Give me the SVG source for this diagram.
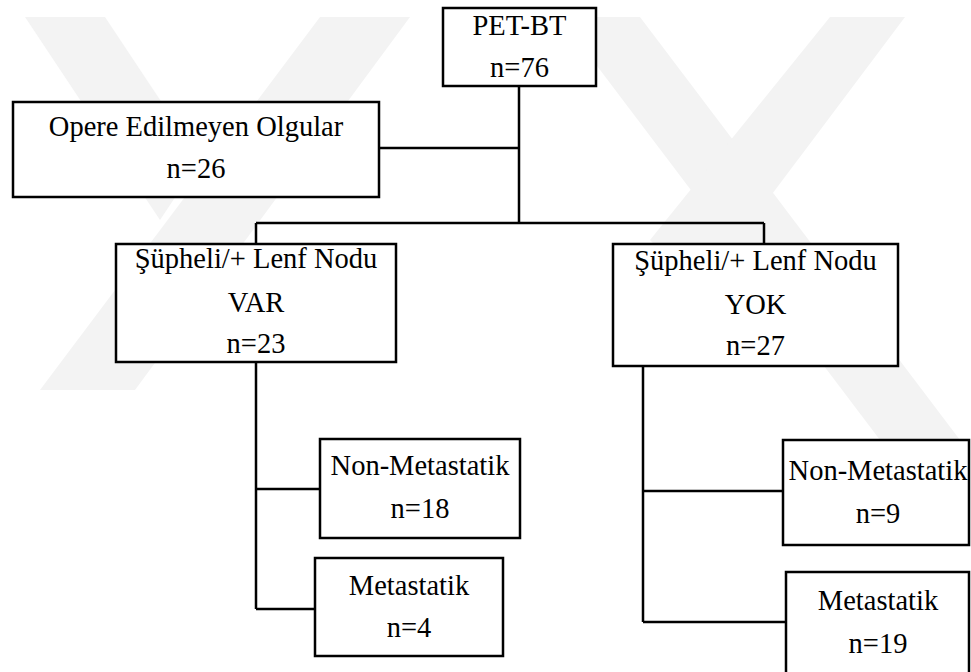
<svg xmlns="http://www.w3.org/2000/svg" width="971" height="672" viewBox="0 0 971 672">
<style>
.box{fill:#fff;stroke:#000;stroke-width:2.5}
.ln{fill:none;stroke:#000;stroke-width:2.5}
.t{font-size:28.5px;fill:#000;text-anchor:middle}
.wm{fill:#f3f3f3}
</style>
<rect width="971" height="672" fill="#fff"/>
<g id="watermark">
<polygon class="wm" points="25,17 105,17 200,160 160,220"/>
<polygon class="wm" points="320,17 410,17 135,390 40,390"/>
<polygon class="wm" points="560,17 640,17 960,440 880,440"/>
<polygon class="wm" points="830,17 905,17 700,290 650,240"/>
</g>
<g id="connectors">
<path class="ln" d="M519,86V223M379,148H519M256,223H764M256,223V244M764,223V244"/>
<path class="ln" d="M256,362V609M256,489H320M256,609H315"/>
<path class="ln" d="M643,366V622M643,491H783M643,622H786"/>
</g>
<g class="t" font-family="Liberation Serif, Tinos, Times New Roman, DejaVu Serif, serif">
<g id="pet">
<rect class="box" x="443" y="8" width="153" height="78"/>
<text x="519.5" y="35">PET-BT</text>
<text x="519.5" y="77">n=76</text>
</g>
<g id="opere">
<rect class="box" x="13" y="102" width="366" height="95"/>
<text x="196" y="136">Opere Edilmeyen Olgular</text>
<text x="196" y="178">n=26</text>
</g>
<g id="var">
<rect class="box" x="116" y="244" width="280" height="118"/>
<text x="256" y="268">Şüpheli/+ Lenf Nodu</text>
<text x="256" y="312">VAR</text>
<text x="256" y="353">n=23</text>
</g>
<g id="yok">
<rect class="box" x="613" y="244" width="285" height="122"/>
<text x="755.5" y="270">Şüpheli/+ Lenf Nodu</text>
<text x="755.5" y="314">YOK</text>
<text x="755.5" y="355">n=27</text>
</g>
<g id="nonmet-var">
<rect class="box" x="320" y="439" width="200" height="99"/>
<text x="420" y="475">Non-Metastatik</text>
<text x="420" y="518">n=18</text>
</g>
<g id="met-var">
<rect class="box" x="315" y="558" width="188" height="98"/>
<text x="409" y="595">Metastatik</text>
<text x="409" y="637">n=4</text>
</g>
<g id="nonmet-yok">
<rect class="box" x="783" y="440" width="186" height="105"/>
<text x="878" y="480">Non-Metastatik</text>
<text x="878" y="523">n=9</text>
</g>
<g id="met-yok">
<rect class="box" x="786" y="572" width="183" height="110"/>
<text x="878" y="610">Metastatik</text>
<text x="878" y="653">n=19</text>
</g>
</g>
</svg>
